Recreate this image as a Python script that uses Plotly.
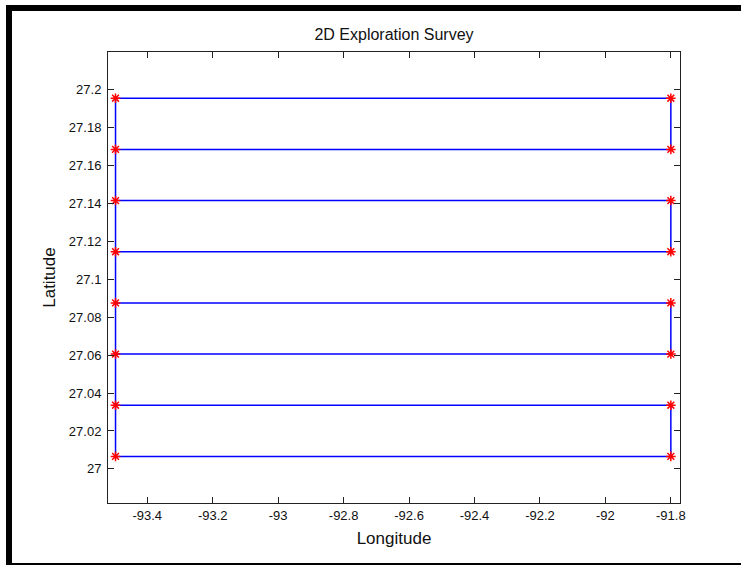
import plotly.graph_objects as go

# Survey line latitudes (top to bottom) and end longitudes
line_lats = [27.1956, 27.1686, 27.1416, 27.1146, 27.0876, 27.0606, 27.0336, 27.0066]
lon_west = -93.497
lon_east = -91.800

x_ticks = [-93.4, -93.2, -93.0, -92.8, -92.6, -92.4, -92.2, -92.0, -91.8]
x_tick_text = ["-93.4", "-93.2", "-93", "-92.8", "-92.6", "-92.4", "-92.2", "-92", "-91.8"]
y_ticks = [27.0, 27.02, 27.04, 27.06, 27.08, 27.1, 27.12, 27.14, 27.16, 27.18, 27.2]
y_tick_text = ["27", "27.02", "27.04", "27.06", "27.08", "27.1", "27.12", "27.14", "27.16", "27.18", "27.2"]

# Serpentine path, returning up the west edge to the start
path_x, path_y = [], []
for i, lat in enumerate(line_lats):
    if i % 2 == 0:
        path_x += [lon_west, lon_east]
    else:
        path_x += [lon_east, lon_west]
    path_y += [lat, lat]
path_x.append(lon_west)
path_y.append(line_lats[0])

pts_x = path_x[:-1]
pts_y = path_y[:-1]

fig = go.Figure()
fig.add_trace(go.Scatter(x=path_x, y=path_y, mode="lines",
                         line=dict(color="#0000ff", width=1.5), hoverinfo="skip"))
fig.add_trace(go.Scatter(x=pts_x, y=pts_y, mode="markers",
                         marker=dict(symbol="asterisk-open", size=8,
                                     line=dict(color="#ff0000", width=1.5), color="#ff0000")))

FONT = "Liberation Sans, Arial, Helvetica, sans-serif"

L, R, T, B = 108, 61, 52, 62
W, H = 741, 565
pw, ph = W - L - R, H - T - B

def px(x):
    return (x - L) / pw

def py(y):
    return (H - B - y) / ph

shapes = [
    dict(type="rect", xref="paper", yref="paper", x0=px(6), x1=px(745), y0=py(11), y1=py(5),
         fillcolor="black", line=dict(width=0), layer="above"),
    dict(type="rect", xref="paper", yref="paper", x0=px(6), x1=px(12), y0=py(570), y1=py(5),
         fillcolor="black", line=dict(width=0), layer="above"),
    dict(type="rect", xref="paper", yref="paper", x0=px(6), x1=px(745), y0=py(565), y1=py(563),
         fillcolor="black", line=dict(width=0), layer="above"),
]

axis_common = dict(
    showgrid=False, zeroline=False, showline=True, linecolor="#222", linewidth=1,
    mirror="ticks", ticks="inside", ticklen=6, tickwidth=1, tickcolor="#222",
    tickfont=dict(family=FONT, size=13, color="#111"),
)

fig.update_layout(
    width=W, height=H,
    margin=dict(l=L, r=R, t=T, b=B),
    paper_bgcolor="white", plot_bgcolor="white",
    showlegend=False,
    title=dict(text="2D Exploration Survey", x=(394) / W, xanchor="center",
               y=1 - 34 / H, yanchor="middle", yref="container",
               font=dict(family=FONT, size=16, color="#111")),
    xaxis=dict(range=[-93.52, -91.772], tickvals=x_ticks, ticktext=x_tick_text,
               title=dict(text="Longitude", font=dict(family=FONT, size=17, color="#111"), standoff=10),
               **axis_common),
    yaxis=dict(range=[26.982, 27.22], tickvals=y_ticks, ticktext=y_tick_text,
               ticklabelstandoff=3,
               title=dict(text="Latitude", font=dict(family=FONT, size=17, color="#111"), standoff=8),
               **axis_common),
    shapes=shapes,
)

fig.write_html("out.html")
